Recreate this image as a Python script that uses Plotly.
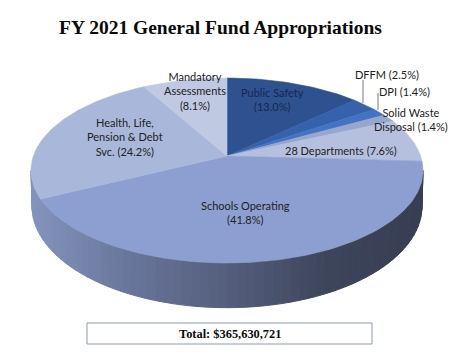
import numpy as np
import plotly.graph_objects as go

# --- data ---
categories = ["Public Safety", "DFFM", "DPI", "Solid Waste Disposal", "28 Departments",
              "Schools Operating", "Health, Life, Pension & Debt Svc.", "Mandatory Assessments"]
shares = [13.0, 2.5, 1.4, 1.4, 7.6, 41.8, 24.2, 8.1]
colors = ["#2e5190", "#3562ab", "#4472c4", "#97a6cb", "#b5c0de", "#8c9fd0", "#a9b8da", "#c0c9e2"]
title_text = "FY 2021 General Fund Appropriations"
total_text = "Total: $365,630,721"

# tilted-disc projection (pixel canvas)
CX, CY, A, B, K = 227.0, 156.0, 193.6, 90.2, 0.1568
SX, SY, YB = 0.995, 1.10, 190.0


def top(t):
    u, v = np.sin(t), np.cos(t)
    d = 1 + K * v
    return CX + A * u / d, CY - B * v / d


def bottom(t):
    u, v = np.sin(t), np.cos(t)
    d = 1 + K * v
    return CX + SX * A * u / d, YB - SY * B * v / d


def mix(stops, f):
    f = min(max(f, 0), 1) * (len(stops) - 1)
    i = min(int(f), len(stops) - 2)
    g = f - i
    c = [stops[i][j] + (stops[i + 1][j] - stops[i][j]) * g for j in range(3)]
    return "rgb(%d,%d,%d)" % tuple(c)


fig = go.Figure()

# side wall, drawn as narrow strips so the shade can run left to right
side_stops = [(55, 62, 82), (62, 70, 92), (85, 95, 125), (105, 118, 155), (133, 148, 190)]
t_start, t_end = np.arccos(-K), 2 * np.pi - np.arccos(-K)
edges = np.linspace(t_start, t_end, 71)
for t0, t1 in zip(edges[:-1], edges[1:]):
    ts = np.linspace(t0, t1, 4)
    xa, ya = top(ts)
    xb, yb = bottom(ts[::-1])
    col = mix(side_stops, (CX + 196 - (xa.mean() + xb.mean()) / 2) / 392)
    fig.add_trace(go.Scatter(x=np.r_[xa, xb, xa[0]], y=np.r_[ya, yb, ya[0]], mode="lines",
                             fill="toself", fillcolor=col, line=dict(color=col, width=1),
                             hoverinfo="skip", showlegend=False))

# top face
cum = np.r_[0, np.cumsum(shares)]
cum = cum / cum[-1] * 2 * np.pi
for i, name in enumerate(categories):
    ts = np.linspace(cum[i], cum[i + 1], max(int(shares[i] * 3), 6))
    xs, ys = top(ts)
    fig.add_trace(go.Scatter(x=np.r_[CX, xs, CX], y=np.r_[CY, ys, CY], mode="lines",
                             fill="toself", fillcolor=colors[i],
                             line=dict(color=colors[i], width=0.6),
                             name=name, hoverinfo="name", showlegend=False))

# leader lines
for lx, ly in [((363, 363), (80, 103)), ((378, 378), (93, 110))]:
    fig.add_trace(go.Scatter(x=lx, y=ly, mode="lines", line=dict(color="#777b85", width=1),
                             hoverinfo="skip", showlegend=False))

LABEL = "Lato"
labels = [
    ("Mandatory<br>Assessments<br>(8.1%)", 195, 91, "#222222"),
    ("Public Safety<br>(13.0%)", 272, 99, "#16284d"),
    ("DFFM (2.5%)", 387, 74, "#222222"),
    ("DPI (1.4%)", 404, 91, "#222222"),
    ("Solid Waste<br>Disposal (1.4%)", 411, 119, "#222222"),
    ("28 Departments (7.6%)", 341, 150, "#222222"),
    ("Schools Operating<br>(41.8%)", 245, 212, "#222222"),
    ("Health, Life,<br>Pension &amp; Debt<br>Svc. (24.2%)", 125, 137, "#222222"),
]
annotations = [dict(x=x, y=y, text=t, showarrow=False, xanchor="center", yanchor="middle",
                    font=dict(family=LABEL, size=11, color=c)) for t, x, y, c in labels]
annotations.append(dict(x=220, y=27, text="<b>%s</b>" % title_text, showarrow=False,
                        xanchor="center", yanchor="middle",
                        font=dict(family="Liberation Serif", size=19.5, color="#0a0a0a")))
annotations.append(dict(x=229.5, y=334, text="<b>%s</b>" % total_text, showarrow=False,
                        xanchor="center", yanchor="middle",
                        font=dict(family="Liberation Serif", size=12.4, color="#0a0a0a")))

# the page body sits 8 px in from the window edge
fig.update_layout(
    width=456, height=355, margin=dict(l=0, r=0, t=0, b=0),
    paper_bgcolor="white", plot_bgcolor="white",
    xaxis=dict(range=[8, 464], visible=False, fixedrange=True),
    yaxis=dict(range=[363, 8], visible=False, fixedrange=True),
    annotations=annotations,
    shapes=[dict(type="rect", x0=87, x1=372, y0=323, y1=344,
                 line=dict(color="#8c9bb0", width=1), fillcolor="rgba(0,0,0,0)")],
)
fig.write_html("out.html", config={"displayModeBar": False})
